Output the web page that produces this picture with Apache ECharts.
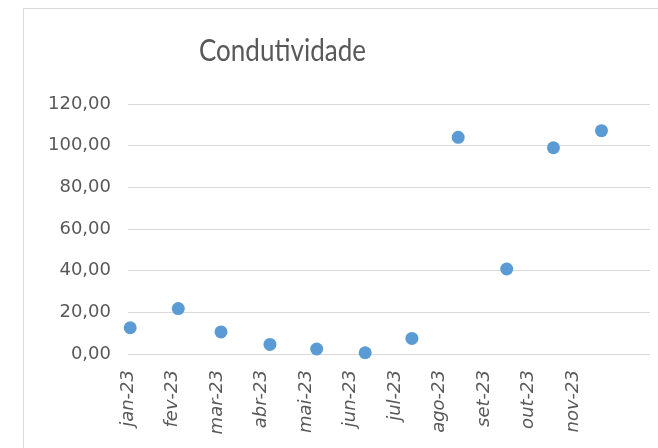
<!DOCTYPE html>
<html>
<head>
<meta charset="utf-8">
<script src="https://cdn.jsdelivr.net/npm/echarts@6/dist/echarts.min.js"></script>
<style>html,body{margin:0;padding:0;background:#fff}#c{width:658px;height:448px}</style>
</head>
<body>
<div id="c"></div>
<script>
var titleText = 'Condutividade';
var monthLabels = ['jan-23','fev-23','mar-23','abr-23','mai-23','jun-23','jul-23','ago-23','set-23','out-23','nov-23'];
var xPositions = [0.05, 1.13, 2.09, 3.19, 4.24, 5.33, 6.38, 7.42, 8.51, 9.56, 10.64];
var condutividade = [12.6, 21.8, 10.6, 4.6, 2.4, 0.6, 7.5, 104.0, 40.8, 99.0, 107.2];

var points = xPositions.map(function (x, i) { return [x, condutividade[i]]; });

var chart = echarts.init(document.getElementById('c'), null, {renderer: 'canvas'});
chart.setOption({
  animation: false,
  backgroundColor: '#ffffff',
  graphic: [{
    type: 'rect',
    shape: {x: 23.5, y: 8.5, width: 800, height: 600},
    style: {fill: 'none', stroke: '#d9d9d9', lineWidth: 1},
    silent: true, z: -10
  }, {
    type: 'text',
    x: 282.5,
    y: 66,
    scaleX: 0.84,
    silent: true,
    style: {
      text: titleText,
      textAlign: 'center',
      textVerticalAlign: 'bottom',
      verticalAlign: 'alphabetic',
      font: 'normal 31px Lato, "Open Sans", sans-serif',
      fill: '#595959'
    }
  }],
  grid: {left: 128, right: 8, top: 104, bottom: 94, containLabel: false},
  xAxis: {
    type: 'value',
    min: 0,
    max: 11.73,
    interval: 1,
    axisLine: {show: false},
    axisTick: {show: false},
    splitLine: {show: false},
    axisLabel: {
      rotate: 90,
      margin: 16,
      fontFamily: '"DejaVu Sans", sans-serif',
      fontStyle: 'italic',
      fontSize: 18,
      color: '#595959',
      showMaxLabel: false,
      formatter: function (v) {
        var r = Math.round(v);
        if (Math.abs(v - r) > 1e-6) return '';
        return monthLabels[r] || '';
      }
    }
  },
  yAxis: {
    type: 'value',
    min: 0,
    max: 120,
    interval: 20,
    axisLine: {show: false},
    axisTick: {show: false},
    splitLine: {show: true, lineStyle: {color: '#d9d9d9', width: 1}},
    axisLabel: {
      margin: 17,
      fontFamily: '"DejaVu Sans", sans-serif',
      fontSize: 18,
      color: '#595959',
      formatter: function (v) { return v.toFixed(2).replace('.', ','); }
    }
  },
  series: [{
    type: 'scatter',
    data: points,
    symbol: 'circle',
    symbolSize: 13,
    itemStyle: {color: '#5b9bd5', opacity: 1}
  }]
});
</script>
</body>
</html>
